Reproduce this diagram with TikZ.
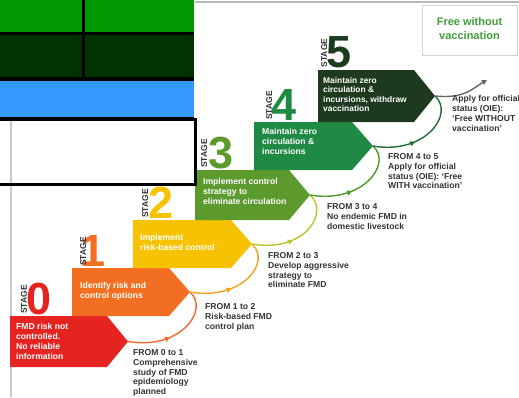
\documentclass[tikz,border=0pt]{standalone}
\usepackage{fontspec}
\setmainfont{Liberation Sans}
\usetikzlibrary{decorations.markings,arrows.meta}
\definecolor{cred}{HTML}{E52421}
\definecolor{corange}{HTML}{F26F21}
\definecolor{cyellow}{HTML}{F7C300}
\definecolor{colive}{HTML}{5C9A2E}
\definecolor{cgreen}{HTML}{1F8A43}
\definecolor{cdark}{HTML}{1D3A1E}
\definecolor{aone}{HTML}{F26A2E}
\definecolor{atwo}{HTML}{F5A31E}
\definecolor{athree}{HTML}{BFC22B}
\definecolor{afour}{HTML}{4C9A2A}
\definecolor{afive}{HTML}{1F6E38}
\definecolor{labgray}{HTML}{333333}
\definecolor{freegreen}{HTML}{3E9E3A}
\definecolor{ogreen}{HTML}{009900}
\definecolor{odark}{HTML}{003300}
\definecolor{oblue}{HTML}{3399FF}
\begin{document}
\begin{tikzpicture}[x=1pt,y=-1pt,
  boxtext/.style={anchor=north west,inner sep=0pt,align=left,text=white,font=\fontsize{8.6}{9.7}\selectfont\bfseries},
  labeltext/.style={anchor=north west,inner sep=0pt,align=left,text=labgray,font=\fontsize{8.6}{9.7}\selectfont\bfseries},
  digit/.style={anchor=base west,inner sep=0pt,font=\fontsize{45}{45}\selectfont\bfseries},
  stagelbl/.style={rotate=90,anchor=base west,inner sep=0pt,text=labgray,font=\fontsize{8.5}{8.5}\selectfont\bfseries},
  arcline/.style={line width=1.4pt},
  midarrow/.style={postaction={decorate},decoration={markings,mark=at position #1 with {\arrow{Triangle[length=5pt,width=5pt]}}}},
  rule/.style={line width=3.3pt,black}
]
\useasboundingbox (0,0) rectangle (519,397);
\fill[white] (0,0) rectangle (519,397);
% frame lines of the infographic
\draw[gray!40,line width=1.5pt] (11,120) -- (11,397);
\draw[gray!55,line width=2pt] (195,1.5) -- (519,1.5);
% free box
\node[draw=gray!35,line width=1pt,minimum width=95pt,minimum height=50pt,inner sep=0pt] (free) at (469.5,30) {};
\node[align=center,text=freegreen,font=\fontsize{11}{14}\selectfont\bfseries] (freetxt) at (469.5,29) {Free without\\vaccination};
% stage boxes
\coordinate (t0) at (128,341.5);
\coordinate (t1) at (190,292);
\coordinate (t2) at (252,244);
\coordinate (t3) at (310,195);
\coordinate (t4) at (373,146);
\coordinate (t5) at (435,96);
\coordinate (tf) at (487,80);
\fill[cred] (10,316) -- (107,316) -- (t0) -- (107,367) -- (10,367) -- cycle;
\fill[corange] (72,268) -- (169,268) -- (t1) -- (169,316) -- (72,316) -- cycle;
\fill[cyellow] (133,220) -- (231,220) -- (t2) -- (231,268) -- (133,268) -- cycle;
\fill[colive] (195,170) -- (289,170) -- (t3) -- (289,220) -- (195,220) -- cycle;
\fill[cgreen] (254,122) -- (352,122) -- (t4) -- (352,170) -- (254,170) -- cycle;
\fill[cdark] (318,70) -- (414,70) -- (t5) -- (414,122) -- (318,122) -- cycle;
% stage texts
\node[boxtext] (s0) at (16,323.5) {FMD risk not\\controlled.\\No reliable\\information};
\node[boxtext] (s1) at (80,282.5) {Identify risk and\\control options};
\node[boxtext] (s2) at (140,234.5) {Implement\\risk-based control};
\node[boxtext] (s3) at (203,178.5) {Implement control\\strategy to\\eliminate circulation};
\node[boxtext] (s4) at (262,128.5) {Maintain zero\\circulation \&\\incursions};
\node[boxtext,font=\fontsize{8.4}{9.4}\selectfont\bfseries] (s5) at (323,77) {Maintain zero\\circulation \&\\incursions, withdraw\\vaccination};
% stage numbers
\node[digit,text=cred] (d0) at (26,314) {0};
\node[digit,text=corange] (d1) at (80,266) {1};
\node[digit,text=cyellow] (d2) at (148,218) {2};
\node[digit,text=colive] (d3) at (208,168) {3};
\node[digit,text=cgreen] (d4) at (271,120) {4};
\node[digit,text=cdark] (d5) at (326,67.5) {5};
\node[stagelbl] (g0) at (27,314) {STAGE};
\node[stagelbl] (g1) at (86,266) {STAGE};
\node[stagelbl] (g2) at (148,218) {STAGE};
\node[stagelbl] (g3) at (207,168) {STAGE};
\node[stagelbl] (g4) at (272,120) {STAGE};
\node[stagelbl] (g5) at (327,67.5) {STAGE};
% connecting arcs
\draw[arcline,aone,midarrow=0.42] (t0) .. controls +(52,9) and +(20,18) .. (t1);
\draw[arcline,atwo,midarrow=0.42] (t1) .. controls +(52,9) and +(20,18) .. (t2);
\draw[arcline,athree,midarrow=0.42] (t2) .. controls +(52,9) and +(20,18) .. (t3);
\draw[arcline,afour,midarrow=0.42] (t3) .. controls +(52,9) and +(20,18) .. (t4);
\draw[arcline,afive,midarrow=0.42] (t4) .. controls +(52,9) and +(20,18) .. (t5);
\draw[arcline,gray!80!black,-{Triangle[length=5pt,width=5pt]}] (t5) .. controls +(30,3) and +(-14,8) .. (tf);
% labels
\node[labeltext] (l01) at (133,349.5) {FROM 0 to 1\\Comprehensive\\study of FMD\\epidemiology\\planned};
\node[labeltext] (l12) at (205,303.5) {FROM 1 to 2\\Risk-based FMD\\control plan};
\node[labeltext] (l23) at (268,252.5) {FROM 2 to 3\\Develop aggressive\\strategy to\\eliminate FMD};
\node[labeltext] (l34) at (327,203.5) {FROM 3 to 4\\No endemic FMD in\\domestic livestock};
\node[labeltext] (l45) at (388,153.5) {FROM 4 to 5\\Apply for official\\status (OIE): `Free\\WITH vaccination'};
\node[labeltext] (l5f) at (452,95.5) {Apply for official\\status (OIE):\\`Free WITHOUT\\vaccination'};
% overlay table
\fill[ogreen] (0,0) rectangle (194,33.3);
\fill[odark] (0,33.3) rectangle (194,79);
\fill[oblue] (0,79) rectangle (194,119);
\draw[rule] (0,33.3) -- (194,33.3);
\draw[rule] (0,79) -- (194,79);
\draw[rule] (0,119) -- (194,119);
\draw[rule] (83.7,0) -- (83.7,79);
\draw[rule] (195.3,117.5) -- (195.3,186);
\draw[rule] (0,184.3) -- (197,184.3);
\end{tikzpicture}
\end{document}
